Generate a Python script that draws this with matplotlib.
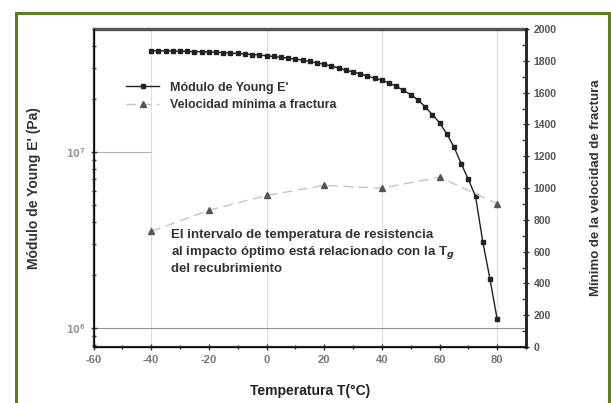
import numpy as np
import matplotlib.pyplot as plt
from matplotlib.patches import Rectangle
from matplotlib.ticker import LogLocator, MultipleLocator

# Modulo de Young E' (Pa) frente a temperatura
temp_E = [-40, -37.5, -35, -32.5, -30, -27.5, -25, -22.5, -20, -17.5, -15, -12.5,
          -10, -7.5, -5, -2.5, 0, 2.5, 5, 7.5, 10, 12.5, 15, 17.5, 20, 22.5, 25,
          27.5, 30, 32.5, 35, 37.5, 40, 42.5, 45, 47.5, 50, 52.5, 55, 57.5, 60,
          62.5, 65, 67.5, 70, 72.5, 75, 77.5, 80]
young_E = [3.76e7, 3.76e7, 3.75e7, 3.75e7, 3.74e7, 3.73e7, 3.72e7, 3.71e7, 3.70e7,
           3.69e7, 3.67e7, 3.65e7, 3.63e7, 3.61e7, 3.58e7, 3.56e7, 3.52e7, 3.49e7,
           3.45e7, 3.41e7, 3.37e7, 3.33e7, 3.27e7, 3.21e7, 3.15e7, 3.08e7, 3.00e7,
           2.92e7, 2.85e7, 2.78e7, 2.70e7, 2.63e7, 2.56e7, 2.47e7, 2.36e7, 2.24e7,
           2.12e7, 1.98e7, 1.81e7, 1.63e7, 1.47e7, 1.27e7, 1.07e7, 8.6e6, 7.0e6,
           5.6e6, 3.1e6, 1.9e6, 1.12e6]

# Velocidad minima a fractura (eje derecho)
temp_v = [-40, -20, 0, 20, 40, 60, 80]
vel_v = [727, 860, 953, 1016, 999, 1068, 901]

xticks = [-60, -40, -20, 0, 20, 40, 60, 80]

plt.rcParams['font.family'] = ['Liberation Sans Narrow', 'Liberation Sans', 'DejaVu Sans']
plt.rcParams['font.weight'] = 'bold'
plt.rcParams['axes.labelweight'] = 'bold'
plt.rcParams['axes.unicode_minus'] = False

fig = plt.figure(figsize=(6.11, 4.03), dpi=100)
fig.patch.set_facecolor('white')

# marco verde alrededor de la figura
fig.patches.append(Rectangle((16 / 611, -0.01), 593 / 611, 1 - 13 / 403 + 0.01,
                             transform=fig.transFigure, fill=False,
                             edgecolor='#5e7f1f', linewidth=2.2, zorder=0))

ax = fig.add_axes([93.5 / 611, 1 - 347 / 403, (526 - 93.5) / 611, (347 - 29) / 403])
ax.set_yscale('log')
ax.set_xlim(-60, 90)
ax.set_ylim(7.8e5, 5.0e7)

# lineas de referencia grises
for xv in [-40, 0, 40, 80]:
    ax.axvline(xv, color='#dcdcdc', linewidth=0.8, zorder=0)
ax.axhline(1e7, xmax=0.13, color='#b0b0b0', linewidth=0.8, zorder=0)
ax.axhline(1e6, color='#909090', linewidth=0.8, zorder=0)

lE, = ax.plot(temp_E, young_E, color='#222222', linewidth=1.0, marker='s',
              markersize=3.4, markerfacecolor='#222222', markeredgecolor='#222222', zorder=3)

ax.set_xticks(xticks)
ax.xaxis.set_minor_locator(MultipleLocator(10))
ax.yaxis.set_minor_locator(LogLocator(base=10, subs=np.arange(2, 10), numticks=10))
ax.set_yticks([1e6, 1e7])
ax.set_yticklabels(['$10^6$', '$10^7$'])
ax.tick_params(axis='y', which='major', labelsize=7, labelcolor='#999999', length=4,
               direction='inout', width=1.0, color='#333333')
ax.tick_params(axis='y', which='minor', length=3, direction='inout', width=1.0,
               color='#333333')
ax.tick_params(axis='x', which='major', labelsize=8, labelcolor='#777777', length=4,
               direction='inout', width=1.0, color='#333333')
ax.tick_params(axis='x', which='minor', length=3, direction='inout', width=1.0,
               color='#333333')

for side in ['left', 'bottom']:
    ax.spines[side].set_linewidth(1.6)
    ax.spines[side].set_color('#333333')
ax.spines['top'].set_linewidth(2.4)
ax.spines['top'].set_color('#555555')
ax.spines['right'].set_linewidth(1.8)
ax.spines['right'].set_color('#222222')

ax.set_xlabel('Temperatura T(°C)', fontsize=10, color='#222222', labelpad=14)
ax.set_ylabel("Módulo de Young E' (Pa)", fontsize=10, color='#333333', labelpad=18)

ax2 = ax.twinx()
ax2.set_ylim(0, 2000)
lv, = ax2.plot(temp_v, vel_v, color='#c4c4c4', linewidth=1.0, linestyle=(0, (7, 4)),
               marker='^', markersize=5, markerfacecolor='#555555',
               markeredgecolor='#555555', zorder=3)
ax2.set_yticks(np.arange(0, 2001, 200))
ax2.yaxis.set_minor_locator(MultipleLocator(100))
ax2.tick_params(axis='y', which='major', labelsize=7.5, labelcolor='#555555', length=4,
                direction='inout', width=1.0, color='#333333')
ax2.tick_params(axis='y', which='minor', length=3, direction='in', width=1.0,
                color='#333333')
ax2.set_ylabel('Mínimo de la velocidad de fractura', fontsize=9.5, color='#333333',
               labelpad=24)
ax2.spines['right'].set_linewidth(1.8)
ax2.spines['right'].set_color('#222222')
ax2.spines['top'].set_visible(False)

ax.legend([lE, lv], ["Módulo de Young E'", 'Velocidad mínima a fractura'],
          loc='upper left', bbox_to_anchor=(0.05, 0.87), frameon=False,
          fontsize=9, labelcolor='#333333', handlelength=2.6, handletextpad=0.9,
          labelspacing=0.45)

ax.text(171 / 611, 1 - 252 / 403,
        'El intervalo de temperatura de resistencia\n'
        'al impacto óptimo está relacionado con la T$_g$\n'
        'del recubrimiento',
        transform=fig.transFigure, fontsize=9.5, color='#333333', va='center',
        ha='left', linespacing=1.3)

plt.savefig('out.png', dpi=100)
